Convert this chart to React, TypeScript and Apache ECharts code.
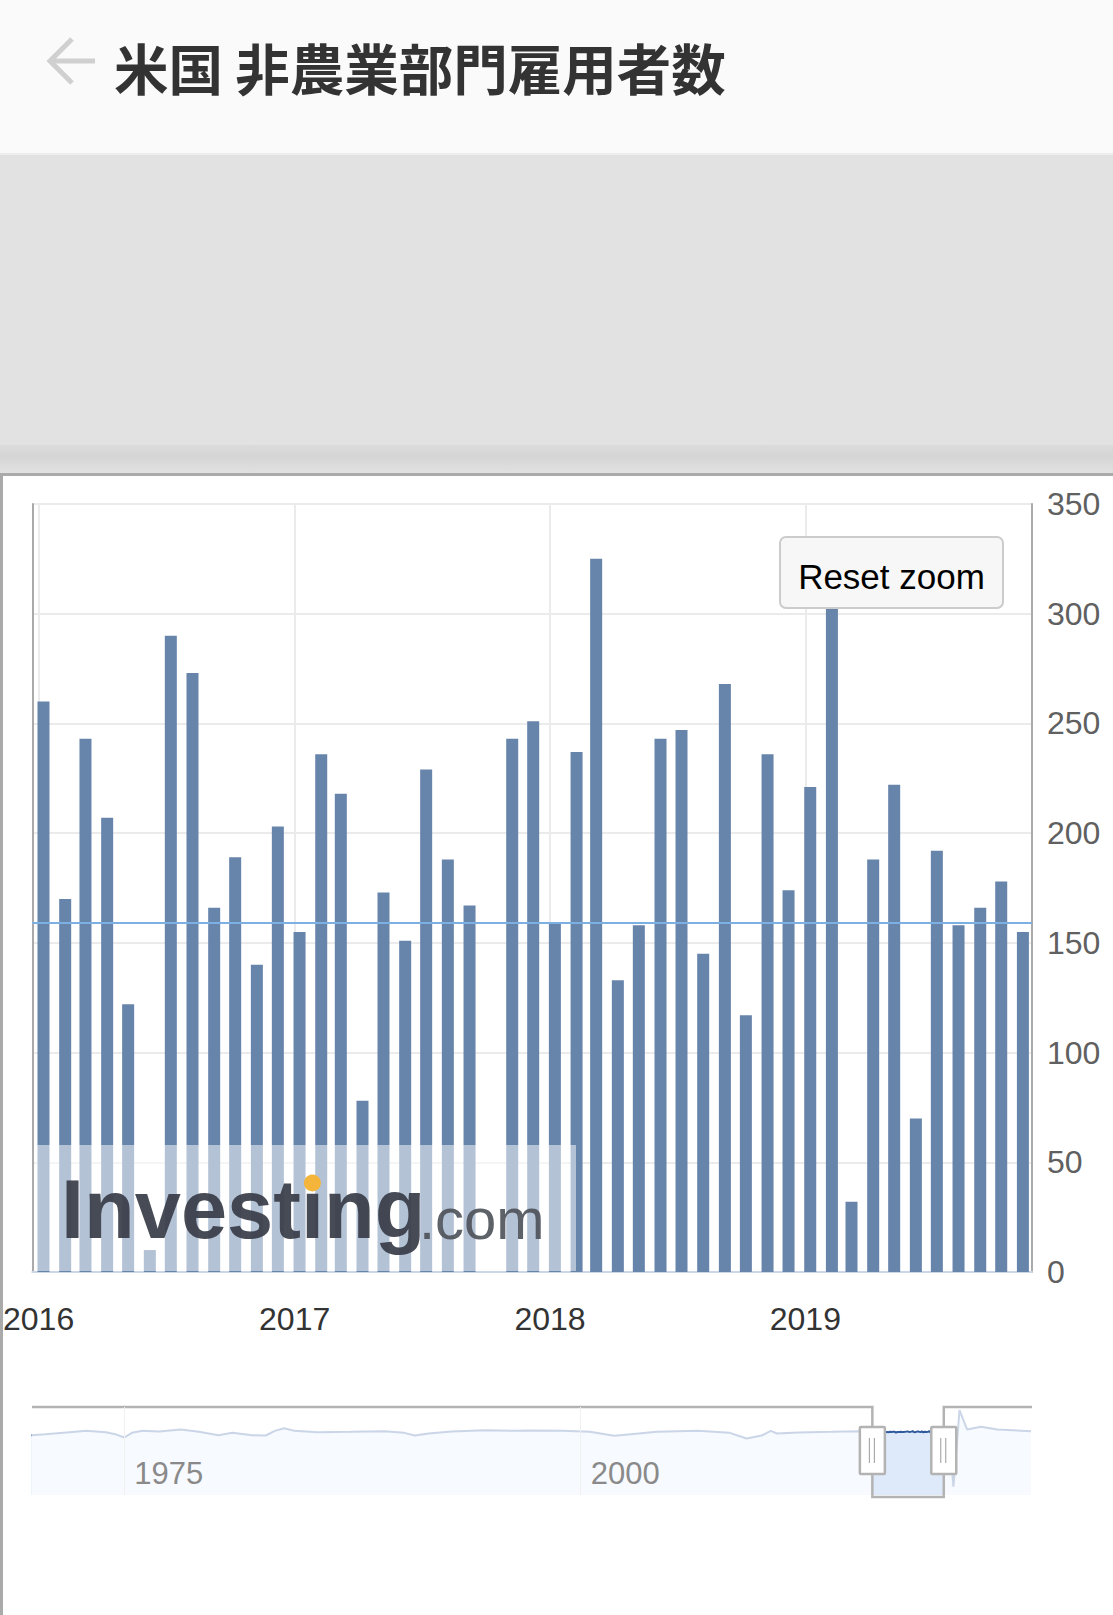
import React, { useEffect, useRef } from 'react';
import * as echarts from 'echarts';

// ---------- texts ----------
const TITLE = '米国 非農業部門雇用者数';
const RESET_LABEL = 'Reset zoom';
const LOGO_MAIN = 'Investing';
const LOGO_TAIL = '.com';

// ---------- main chart data (bar dates as placed on the time scale, thousands of jobs) ----------
const barDates = [
  '2016-01-08', '2016-02-08', '2016-03-08', '2016-04-08', '2016-05-08', '2016-06-08',
  '2016-07-08', '2016-08-08', '2016-09-08', '2016-10-08', '2016-11-08', '2016-12-08',
  '2017-01-08', '2017-02-08', '2017-03-08', '2017-04-08', '2017-05-08', '2017-06-08',
  '2017-07-08', '2017-08-08', '2017-09-08', '2017-10-08', '2017-11-08', '2017-12-08',
  '2018-01-08', '2018-02-08', '2018-03-08', '2018-04-08', '2018-05-08', '2018-06-08',
  '2018-07-08', '2018-08-08', '2018-09-08', '2018-10-08', '2018-11-08', '2018-12-08',
  '2019-01-08', '2019-02-08', '2019-03-08', '2019-04-08', '2019-05-08', '2019-06-08',
  '2019-07-08', '2019-08-08', '2019-09-08', '2019-10-08', '2019-11-08',
];
const payrolls: (number | null)[] = [
  260, 170, 243, 207, 122, 10, 290, 273, 166, 189, 140, 203,
  155, 236, 218, 78, 173, 151, 229, 188, 167, null, 243, 251,
  159, 237, 325, 133, 158, 243, 247, 145, 268, 117, 236, 174,
  221, 310, 32, 188, 222, 70, 192, 158, 166, 178, 155,
];
const referenceLine = 159;
const yMin = 0;
const yMax = 350;
const yStep = 50;
const yearTicks = ['2016-01-01', '2017-01-01', '2018-01-01', '2019-01-01'];
const mainRange = ['2015-12-23', '2019-11-21'];

// ---------- navigator data (long history) ----------
const navRange = ['1969-12-11', '2024-09-20'];
const navTicks = ['1975-01-01', '2000-01-01'];
const navDatesBefore = [
  '1969-12', '1970-09', '1972-01', '1972-12', '1974-01', '1974-07', '1975-01', '1975-06',
  '1976-01', '1976-12', '1978-02', '1979-02', '1980-03', '1980-12', '1982-01', '1982-10',
  '1983-04', '1983-10', '1984-05', '1985-08', '1987-06', '1989-04', '1990-05', '1990-12',
  '1991-09', '1992-12', '1994-10', '1996-07', '1997-04', '1999-01', '2000-07', '2001-11',
  '2002-10', '2004-03', '2006-06', '2008-03', '2009-02', '2009-12', '2010-06', '2010-10',
  '2011-12', '2013-10', '2015-06',
];
const navValuesBefore = [
  -444, -251, 136, 393, 136, -251, -895, 7,
  393, 264, 651, 200, -444, 7, -444, -508,
  393, 908, 393, 136, 200, 329, 7, -508,
  -122, 264, 522, 393, 450, 393, 200, -573,
  -251, 200, 393, 7, -1088, -508, 393, -122,
  71, 200, 329,
];
const navDatesAfter = ['2020-03', '2020-06', '2020-10', '2021-03', '2021-12', '2022-11', '2024-09'];
const navValuesAfter = [200, -10400, 4400, 651, 1166, 651, 329];
const navYRange = [-12000, 5000];

// ---------- helpers ----------
const ts = (s: string) => {
  const [y, m, d] = s.split('-').map(Number);
  return new Date(y, (m || 1) - 1, d || 1).getTime();
};
const yearOf = (v: number) => String(new Date(v).getFullYear());
const FONT = '"Liberation Sans", Arial, Helvetica, sans-serif';

function measure(text: string, font: string) {
  const c = document.createElement('canvas').getContext('2d');
  if (!c) return text.length * 40;
  c.font = font;
  return c.measureText(text).width;
}

function buildOption() {
  const barData = barDates.map((d, i) => [ts(d), payrolls[i]]);
  const navData: [number, number][] = [];
  navDatesBefore.forEach((d, i) => navData.push([ts(d), navValuesBefore[i]]));
  barDates.forEach((d, i) => {
    const v = payrolls[i];
    if (v !== null) navData.push([ts(d), v]);
  });
  navDatesAfter.forEach((d, i) => navData.push([ts(d), navValuesAfter[i]]));

  const logoFont = `bold 83px "Liberation Sans", Arial, sans-serif`;
  const logoX = 61;
  const dotX = logoX + measure('Invest', logoFont) + measure('i', logoFont) / 2;

  const winMin = ts(mainRange[0]);
  const winMax = ts(mainRange[1]);

  return {
    animation: false,
    textStyle: { fontFamily: FONT },
    grid: [
      { left: 32, top: 504, width: 1000, height: 768 },
      { left: 32, top: 1407, width: 1000, height: 88 },
    ],
    xAxis: [
      {
        type: 'value',
        gridIndex: 0,
        min: winMin,
        max: winMax,
        axisLine: { show: true, onZero: false, lineStyle: { color: '#ccd6eb', width: 2 } },
        axisTick: { show: false, customValues: yearTicks.map(ts) },
        axisLabel: {
          customValues: yearTicks.map(ts),
          formatter: (v: number) => yearOf(v),
          fontSize: 32,
          color: '#333333',
          margin: 31,
          showMinLabel: true,
          showMaxLabel: true,
        },
        splitLine: { show: true, lineStyle: { color: '#ebebeb', width: 2 } },
      },
      {
        type: 'value',
        gridIndex: 1,
        min: ts(navRange[0]),
        max: ts(navRange[1]),
        z: 20,
        axisLine: { show: false, onZero: false },
        axisTick: { show: false, customValues: navTicks.map(ts) },
        axisLabel: {
          customValues: navTicks.map(ts),
          formatter: (v: number) => yearOf(v),
          inside: true,
          align: 'left',
          padding: [0, 0, 0, 10],
          margin: 6,
          fontSize: 31,
          color: '#8a8a8a',
        },
        splitLine: { show: true, lineStyle: { color: '#f0f0f0', width: 1 } },
      },
    ],
    yAxis: [
      {
        type: 'value',
        gridIndex: 0,
        position: 'right',
        min: yMin,
        max: yMax,
        interval: yStep,
        axisLine: { show: true, lineStyle: { color: '#aaaaaa', width: 2 } },
        axisTick: { show: false },
        axisLabel: { fontSize: 32, color: '#606060', margin: 15 },
        splitLine: { show: true, lineStyle: { color: '#ebebeb', width: 2 } },
      },
      {
        type: 'value',
        gridIndex: 0,
        position: 'left',
        min: yMin,
        max: yMax,
        interval: yStep,
        axisLine: { show: true, lineStyle: { color: '#aaaaaa', width: 2 } },
        axisTick: { show: false },
        axisLabel: { show: false },
        splitLine: { show: false },
      },
      {
        type: 'value',
        gridIndex: 1,
        min: navYRange[0],
        max: navYRange[1],
        show: false,
        splitLine: { show: false },
      },
    ],
    series: [
      {
        type: 'bar',
        name: '非農業部門雇用者数',
        xAxisIndex: 0,
        yAxisIndex: 0,
        data: barData,
        barWidth: 12,
        itemStyle: { color: '#6784ab' },
        silent: true,
        markLine: {
          silent: true,
          symbol: 'none',
          label: { show: false },
          lineStyle: { color: '#7cb0e3', width: 2, type: 'solid' },
          data: [{ yAxis: referenceLine }],
        },
      },
      {
        type: 'line',
        xAxisIndex: 1,
        yAxisIndex: 2,
        data: navData,
        symbol: 'none',
        silent: true,
        lineStyle: { color: '#2f5a9e', width: 2 },
        itemStyle: { color: '#2f5a9e' },
        areaStyle: { color: 'rgba(80,140,225,0.27)', origin: 'start' },
      },
      {
        type: 'custom',
        xAxisIndex: 1,
        yAxisIndex: 2,
        silent: true,
        z: 10,
        data: [[winMin, winMax, 0]],
        encode: { x: [0, 1], y: 2 },
        renderItem: (params: any, api: any) => {
          const cs = params.coordSys;
          const xl = api.coord([api.value(0), 0])[0];
          const xr = api.coord([api.value(1), 0])[0];
          const top = cs.y;
          const bottom = cs.y + cs.height;
          const left = cs.x;
          const right = cs.x + cs.width;
          const hW = 25;
          const hH = 47;
          const hTop = top + 20;
          const handle = (cx: number) => [
            {
              type: 'rect',
              shape: { x: cx - hW / 2, y: hTop, width: hW, height: hH, r: 1 },
              style: { fill: '#ffffff', stroke: '#b3b3b3', lineWidth: 2.5 },
            },
            {
              type: 'line',
              shape: { x1: cx - 3, y1: hTop + 11, x2: cx - 3, y2: hTop + 36 },
              style: { stroke: '#9a9a9a', lineWidth: 1 },
            },
            {
              type: 'line',
              shape: { x1: cx + 2, y1: hTop + 11, x2: cx + 2, y2: hTop + 36 },
              style: { stroke: '#9a9a9a', lineWidth: 1 },
            },
          ];
          return {
            type: 'group',
            children: [
              {
                type: 'rect',
                shape: { x: left, y: top, width: xl - left, height: cs.height },
                style: { fill: 'rgba(255,255,255,0.75)' },
              },
              {
                type: 'rect',
                shape: { x: xr, y: top, width: right - xr, height: cs.height },
                style: { fill: 'rgba(255,255,255,0.75)' },
              },
              {
                type: 'polyline',
                shape: {
                  points: [
                    [left, top], [xl, top], [xl, bottom + 2],
                    [xr, bottom + 2], [xr, top], [right, top],
                  ],
                },
                style: { fill: 'none', stroke: '#b3b3b3', lineWidth: 2.5 },
              },
              ...handle(xl),
              ...handle(xr),
            ],
          };
        },
      },
    ],
    graphic: {
      elements: [
        // header
        { type: 'rect', silent: true, shape: { x: 0, y: 0, width: 1113, height: 153 }, style: { fill: '#fafafa' } },
        { type: 'rect', silent: true, shape: { x: 0, y: 153, width: 1113, height: 2 }, style: { fill: '#eeeeee' } },
        { type: 'rect', silent: true, shape: { x: 0, y: 155, width: 1113, height: 290 }, style: { fill: '#e2e2e2' } },
        {
          type: 'rect', silent: true,
          shape: { x: 0, y: 445, width: 1113, height: 28 },
          style: {
            fill: new echarts.graphic.LinearGradient(0, 0, 0, 1, [
              { offset: 0, color: '#dbdbdb' },
              { offset: 0.4, color: '#d5d5d5' },
              { offset: 1, color: '#e1e1e1' },
            ]),
          },
        },
        { type: 'rect', silent: true, shape: { x: 0, y: 473, width: 1113, height: 3 }, style: { fill: '#aaaaaa' } },
        { type: 'rect', silent: true, shape: { x: 0, y: 473, width: 3, height: 1142 }, style: { fill: '#aaaaaa' } },
        {
          type: 'polyline', silent: true,
          shape: { points: [[72, 39], [50, 61], [72, 83]] },
          style: { fill: 'none', stroke: '#d0d0d0', lineWidth: 5 },
        },
        {
          type: 'line', silent: true,
          shape: { x1: 50, y1: 61, x2: 95, y2: 61 },
          style: { stroke: '#d0d0d0', lineWidth: 5 },
        },
        {
          type: 'text', silent: true, x: 114, y: 66,
          style: {
            text: TITLE,
            font: 'bold 54.5px "Noto Sans CJK JP", "Noto Sans CJK SC", sans-serif',
            fill: '#333333',
            align: 'left',
            verticalAlign: 'middle',
          },
        },
        // watermark
        {
          type: 'rect', silent: true, z: 50,
          shape: { x: 35, y: 1145, width: 541, height: 126 },
          style: { fill: 'rgba(255,255,255,0.5)' },
        },
        {
          type: 'text', silent: true, z: 51, x: logoX, y: 1209,
          style: {
            text: LOGO_MAIN,
            font: logoFont,
            fill: 'rgba(55,60,70,0.92)',
            align: 'left',
            verticalAlign: 'middle',
          },
        },
        {
          type: 'circle', silent: true, z: 52,
          shape: { cx: dotX, cy: 1183, r: 8.5 },
          style: { fill: '#f5b53a' },
        },
        {
          type: 'text', silent: true, z: 51, x: 419, y: 1218,
          style: {
            text: LOGO_TAIL,
            font: '58px "Liberation Sans Narrow", "Liberation Sans", Arial, sans-serif',
            fill: 'rgba(75,80,88,0.9)',
            align: 'left',
            verticalAlign: 'middle',
          },
        },
        // reset zoom button
        {
          type: 'rect', silent: true, z: 60,
          shape: { x: 780, y: 537, width: 223, height: 71, r: 6 },
          style: { fill: '#f7f7f7', stroke: '#cccccc', lineWidth: 2 },
        },
        {
          type: 'text', silent: true, z: 61, x: 891.5, y: 576,
          style: {
            text: RESET_LABEL,
            font: `35px ${FONT}`,
            fill: '#000000',
            align: 'center',
            verticalAlign: 'middle',
          },
        },
      ],
    },
  };
}

export default function App() {
  const ref = useRef<HTMLDivElement>(null);
  useEffect(() => {
    document.body.style.margin = '0';
    document.body.style.overflow = 'hidden';
    const el = ref.current;
    if (!el) return;
    const chart = echarts.init(el, undefined, { renderer: 'svg', width: 1113, height: 1615 });
    chart.setOption(buildOption() as any);
    return () => chart.dispose();
  }, []);
  return <div ref={ref} style={{ width: 1113, height: 1615, background: '#ffffff' }} />;
}
